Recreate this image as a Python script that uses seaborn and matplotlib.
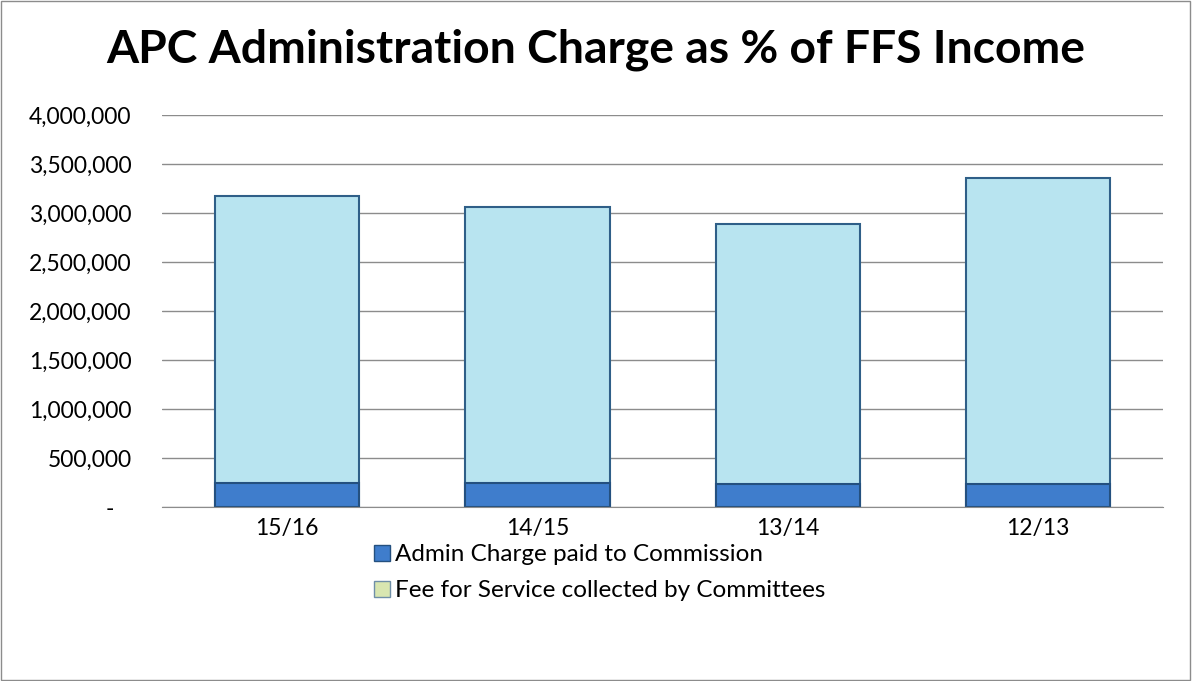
import numpy as np
import pandas as pd
import seaborn as sns
import matplotlib.pyplot as plt
from matplotlib.patches import Rectangle, Patch
from matplotlib.ticker import FuncFormatter

years = ['15/16', '14/15', '13/14', '12/13']
admin_charge = [250000, 245000, 235000, 230000]
fee_for_service = [2923000, 2816000, 2653000, 3126000]

data = pd.DataFrame({'year': years, 'admin': admin_charge, 'fee': fee_for_service})
data['total'] = data['admin'] + data['fee']

sns.set_style('white')
plt.rcParams['font.family'] = ['Lato', 'DejaVu Sans']
plt.rcParams['text.color'] = 'black'
plt.rcParams['xtick.color'] = 'black'
plt.rcParams['ytick.color'] = 'black'

fig = plt.figure(figsize=(11.92, 6.81), dpi=100)
ax = fig.add_axes([0.136, 0.2555, 0.84, 0.5755])

sns.barplot(x='year', y='total', data=data, color='#b8e4f0', width=0.576,
            edgecolor='#2f5f88', linewidth=1.5, saturation=1, ax=ax)
sns.barplot(x='year', y='admin', data=data, color='#3f7dcc', width=0.576,
            edgecolor='#24507f', linewidth=1.5, saturation=1, ax=ax)

ax.set_ylim(0, 4000000)
ax.set_xlim(-0.5, 3.5)
ax.set_yticks(np.arange(0, 4000001, 500000))
ax.yaxis.set_major_formatter(FuncFormatter(lambda v, p: '-   ' if v == 0 else f'{int(v):,}'))
ax.yaxis.grid(True, color='#8c8c8c', linewidth=1)
ax.set_axisbelow(True)
for s in ['left', 'top', 'right']:
    ax.spines[s].set_visible(False)
ax.spines['bottom'].set_color('#8c8c8c')
ax.tick_params(axis='both', labelsize=16.5, length=0, pad=8)
ax.tick_params(axis='y', pad=22)
ax.set_xlabel('')
ax.set_ylabel('')

fig.text(0.5, 0.927, 'APC Administration Charge as % of FFS Income',
         ha='center', va='center', fontsize=33.3, fontweight='bold')

handles = [Patch(facecolor='#3f7dcc', edgecolor='#24507f'),
           Patch(facecolor='#d8e6b0', edgecolor='#6f8fa8')]
fig.legend(handles, ['Admin Charge paid to Commission', 'Fee for Service collected by Committees'],
           loc='upper center', bbox_to_anchor=(0.503, 0.233), frameon=False, fontsize=17.5,
           handlelength=0.65, handleheight=0.65, handletextpad=0.2, labelspacing=0.62)

fig.patches.append(Rectangle((0.001, 0.001), 0.997, 0.997, transform=fig.transFigure,
                             fill=False, edgecolor='#8c8c8c', linewidth=1))

plt.savefig('out.png', dpi=100)
